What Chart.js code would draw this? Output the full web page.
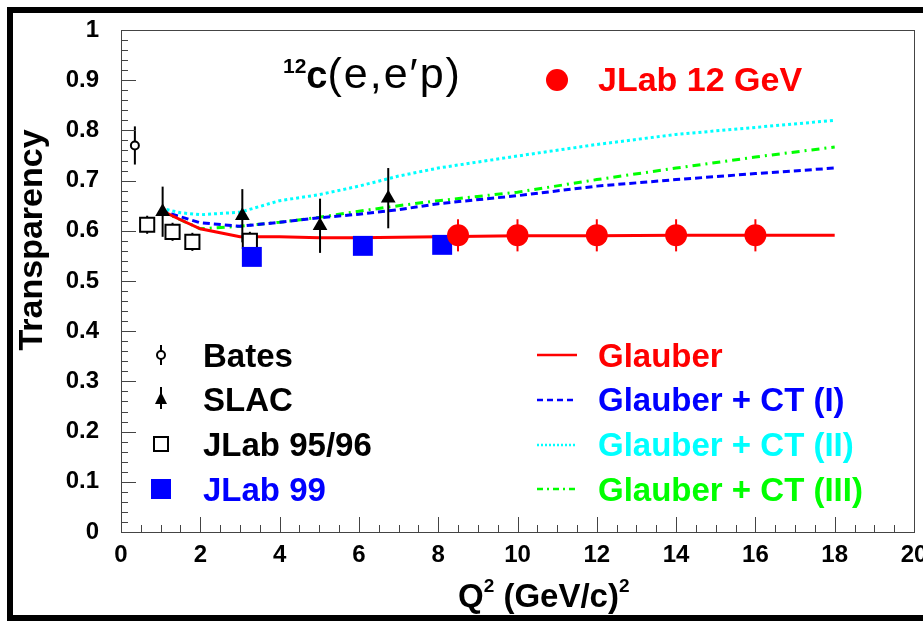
<!DOCTYPE html>
<html>
<head>
<meta charset="utf-8">
<title>12C(e,e'p) transparency</title>
<script src="https://cdn.jsdelivr.net/npm/chart.js@4.4.1/dist/chart.umd.min.js"></script>
<style>
  html, body { margin: 0; padding: 0; background: #fff; }
  #wrap { width: 923px; height: 621px; }
</style>
</head>
<body>
<div id="wrap"><canvas id="grafico" width="923" height="621"></canvas></div>
<script>
const FONT = '"Liberation Sans", Arial, Helvetica, sans-serif';

// curvas teóricas
const q2Curva = [1, 1.5, 2, 3, 4, 5, 6, 7, 8, 10, 12, 14, 16, 18];
const glauber = [0.641, 0.622, 0.604, 0.588, 0.588, 0.586, 0.586, 0.587, 0.588, 0.590, 0.590, 0.591, 0.591, 0.591];
const glauberCT1 = [0.640, 0.628, 0.616, 0.609, 0.617, 0.626, 0.633, 0.642, 0.654, 0.670, 0.689, 0.702, 0.714, 0.725];
const glauberCT2 = [0.645, 0.636, 0.632, 0.637, 0.660, 0.672, 0.689, 0.709, 0.725, 0.749, 0.772, 0.792, 0.806, 0.820];
const glauberCT3 = [0.640, 0.622, 0.604, 0.609, 0.617, 0.627, 0.639, 0.650, 0.660, 0.677, 0.702, 0.725, 0.747, 0.767];

// dados
const batesQ2 = [0.35];
const batesT = [0.770];
const batesErr = [0.038];

const slacQ2 = [1.05, 3.06, 5.02, 6.74];
const slacT = [0.638, 0.630, 0.610, 0.665];
const slacErr = [0.050, 0.053, 0.054, 0.060];

const jlab9596Q2 = [0.66, 1.30, 1.80, 3.25];
const jlab9596T = [0.612, 0.598, 0.578, 0.580];
const jlab9596Err = [0.018, 0.018, 0.018, 0.018];

const jlab99Q2 = [3.30, 6.10, 8.10];
const jlab99T = [0.548, 0.570, 0.572];

const jlab12Q2 = [8.5, 10, 12, 14, 16];
const jlab12T = [0.591, 0.591, 0.591, 0.591, 0.591];
const jlab12Err = [0.032, 0.032, 0.032, 0.032, 0.032];

const xTicks = [0, 2, 4, 6, 8, 10, 12, 14, 16, 18, 20];

function pares(xs, ys) {
    return xs.map((x, i) => ({ x: x, y: ys[i] }));
}

function curva(label, ys, cor, largura, traco) {
    return {
        label: label,
        data: pares(q2Curva, ys),
        showLine: true,
        borderColor: cor,
        borderWidth: largura,
        borderDash: traco,
        pointRadius: 0,
        fill: false
    };
}

function semPadding(s) {
    s.paddingLeft = 0;
    s.paddingRight = 0;
    s.paddingTop = 0;
    s.paddingBottom = 0;
}

const barrasErro = {
    id: 'barrasErro',
    beforeDatasetDraw(chart, args) {
        const ds = chart.data.datasets[args.index];
        if (!ds.erros) return;
        const { ctx, scales: { x, y } } = chart;
        ctx.save();
        ctx.strokeStyle = ds.corErro;
        ctx.lineWidth = 2;
        ds.data.forEach((p, i) => {
            const px = x.getPixelForValue(p.x);
            ctx.beginPath();
            ctx.moveTo(px, y.getPixelForValue(p.y - ds.erros[i]));
            ctx.lineTo(px, y.getPixelForValue(p.y + ds.erros[i]));
            ctx.stroke();
        });
        ctx.restore();
    }
};

const moldura = {
    id: 'moldura',
    afterDraw(chart) {
        const { ctx, chartArea: a, scales: { x, y } } = chart;
        ctx.save();
        ctx.strokeStyle = '#444';
        ctx.lineWidth = 1;
        ctx.strokeRect(a.left + 0.5, a.top + 0.5, a.right - a.left, a.bottom - a.top);
        ctx.beginPath();
        // marcas internas, estilo ROOT
        for (let k = 0; k <= 40; k++) {
            const px = Math.round(x.getPixelForValue(k * 0.5)) + 0.5;
            const len = k % 4 === 0 ? 15 : 7;
            ctx.moveTo(px, a.bottom);
            ctx.lineTo(px, a.bottom - len);
        }
        for (let k = 0; k <= 50; k++) {
            const py = Math.round(y.getPixelForValue(k * 0.02)) + 0.5;
            const len = k % 5 === 0 ? 15 : 7;
            ctx.moveTo(a.left, py);
            ctx.lineTo(a.left + len, py);
        }
        ctx.stroke();
        ctx.restore();
    }
};

function escreve(ctx, partes, x, base) {
    partes.forEach(([t, f, dy, esp]) => {
        ctx.font = f;
        ctx.letterSpacing = esp || '0px';
        ctx.fillText(t, x, base + dy);
        x += ctx.measureText(t).width;
    });
    ctx.letterSpacing = '0px';
}

function linhaAmostra(ctx, y, cor, traco) {
    ctx.save();
    ctx.strokeStyle = cor;
    ctx.lineWidth = 2.5;
    ctx.setLineDash(traco);
    ctx.beginPath();
    ctx.moveTo(537, y);
    ctx.lineTo(577, y);
    ctx.stroke();
    ctx.restore();
}

const textos = {
    id: 'textos',
    afterDraw(chart) {
        const ctx = chart.ctx;
        ctx.save();
        ctx.textBaseline = 'alphabetic';
        ctx.textAlign = 'left';

        // título
        ctx.fillStyle = '#000';
        escreve(ctx, [
            ['12', 'bold 21px ' + FONT, -15],
            ['c', 'bold 38px ' + FONT, 0],
            ['(e,e\u2032p)', '43px ' + FONT, 0, '2px']
        ], 283, 88);

        ctx.fillStyle = '#ff0000';
        ctx.beginPath();
        ctx.arc(557, 80, 11, 0, Math.PI * 2);
        ctx.fill();
        ctx.font = 'bold 34px ' + FONT;
        ctx.fillText('JLab 12 GeV', 598, 91);

        // legenda esquerda
        const bases = [367, 411, 456, 501];
        ctx.font = 'bold 33px ' + FONT;
        ctx.fillStyle = '#000';
        ctx.fillText('Bates', 203, bases[0]);
        ctx.fillText('SLAC', 203, bases[1]);
        ctx.fillText('JLab 95/96', 203, bases[2]);
        ctx.fillStyle = '#0000ff';
        ctx.fillText('JLab 99', 203, bases[3]);

        const mx = 161;
        ctx.strokeStyle = '#000';
        ctx.lineWidth = 2;
        ctx.beginPath();
        ctx.moveTo(mx, bases[0] - 22); ctx.lineTo(mx, bases[0] - 2);
        ctx.moveTo(mx, bases[1] - 24); ctx.lineTo(mx, bases[1] - 2);
        ctx.stroke();
        ctx.fillStyle = '#fff';
        ctx.beginPath();
        ctx.arc(mx, bases[0] - 12, 4, 0, Math.PI * 2);
        ctx.fill();
        ctx.stroke();
        ctx.fillStyle = '#000';
        ctx.beginPath();
        ctx.moveTo(mx, bases[1] - 19);
        ctx.lineTo(mx + 6, bases[1] - 7);
        ctx.lineTo(mx - 6, bases[1] - 7);
        ctx.closePath();
        ctx.fill();
        ctx.strokeRect(mx - 7, bases[2] - 19, 14, 14);
        ctx.fillStyle = '#0000ff';
        ctx.fillRect(mx - 10, bases[3] - 22, 20, 20);

        // legenda direita
        linhaAmostra(ctx, bases[0] - 12, '#ff0000', []);
        linhaAmostra(ctx, bases[1] - 11, '#0000ff', [6, 4]);
        linhaAmostra(ctx, bases[2] - 11, '#00ffff', [2, 2]);
        linhaAmostra(ctx, bases[3] - 12, '#00ff00', [6, 4, 2, 4]);
        ctx.font = 'bold 33px ' + FONT;
        ctx.fillStyle = '#ff0000';
        ctx.fillText('Glauber', 598, bases[0]);
        ctx.fillStyle = '#0000ff';
        ctx.fillText('Glauber + CT (I)', 598, bases[1]);
        ctx.fillStyle = '#00ffff';
        ctx.fillText('Glauber + CT (II)', 598, bases[2]);
        ctx.fillStyle = '#00ff00';
        ctx.fillText('Glauber + CT (III)', 598, bases[3]);

        // títulos dos eixos
        ctx.fillStyle = '#000';
        escreve(ctx, [
            ['Q', 'bold 33px ' + FONT, 0],
            ['2', 'bold 19px ' + FONT, -15],
            [' (GeV/c)', 'bold 33px ' + FONT, 0],
            ['2', 'bold 19px ' + FONT, -15]
        ], 458, 607);

        ctx.save();
        ctx.translate(42, 240);
        ctx.rotate(-Math.PI / 2);
        ctx.textAlign = 'center';
        ctx.font = 'bold 34px ' + FONT;
        ctx.fillText('Transparency', 0, 0);
        ctx.restore();

        // moldura preta externa
        ctx.fillStyle = '#000';
        ctx.fillRect(7, 7, 916, 6);
        ctx.fillRect(7, 7, 6, 614);
        ctx.fillRect(7, 615, 916, 6);
        ctx.restore();
    }
};

new Chart(document.getElementById('grafico'), {
    type: 'scatter',
    data: {
        datasets: [
            {
                label: 'JLab 12 GeV',
                data: pares(jlab12Q2, jlab12T),
                erros: jlab12Err,
                corErro: '#ff0000',
                pointStyle: 'circle',
                pointRadius: 11,
                backgroundColor: '#ff0000',
                borderColor: '#ff0000',
                borderWidth: 0
            },
            {
                label: 'JLab 99',
                data: pares(jlab99Q2, jlab99T),
                pointStyle: 'rect',
                pointRadius: 14.1,
                backgroundColor: '#0000ff',
                borderColor: '#0000ff',
                borderWidth: 0
            },
            {
                label: 'JLab 95/96',
                data: pares(jlab9596Q2, jlab9596T),
                erros: jlab9596Err,
                corErro: '#000',
                pointStyle: 'rect',
                pointRadius: 10,
                backgroundColor: '#fff',
                borderColor: '#000',
                borderWidth: 2
            },
            {
                label: 'SLAC',
                data: pares(slacQ2, slacT),
                erros: slacErr,
                corErro: '#000',
                pointStyle: 'triangle',
                pointRadius: 8.5,
                backgroundColor: '#000',
                borderColor: '#000',
                borderWidth: 0
            },
            {
                label: 'Bates',
                data: pares(batesQ2, batesT),
                erros: batesErr,
                corErro: '#000',
                pointStyle: 'circle',
                pointRadius: 4,
                backgroundColor: '#fff',
                borderColor: '#000',
                borderWidth: 2
            },
            curva('Glauber', glauber, '#ff0000', 3, []),
            curva('Glauber + CT (I)', glauberCT1, '#0000ff', 3, [7, 4]),
            curva('Glauber + CT (II)', glauberCT2, '#00ffff', 3, [3, 3]),
            curva('Glauber + CT (III)', glauberCT3, '#00ff00', 3, [8, 5, 2, 5])
        ]
    },
    options: {
        responsive: false,
        animation: false,
        layout: { autoPadding: false, padding: { left: 0, top: 30, right: 9, bottom: 0 } },
        plugins: { legend: { display: false }, tooltip: { enabled: false } },
        scales: {
            x: {
                type: 'linear',
                min: 0,
                max: 20,
                afterFit: s => { s.height = 89; semPadding(s); },
                afterBuildTicks: s => { s.ticks = xTicks.map(v => ({ value: v })); },
                grid: { display: false, drawTicks: false },
                border: { display: false },
                ticks: { autoSkip: false, maxRotation: 0, padding: 9, color: '#000', font: { family: FONT, size: 24, weight: 'bold' } }
            },
            y: {
                type: 'linear',
                min: 0,
                max: 1,
                afterFit: s => { s.width = 121; semPadding(s); },
                grid: { display: false, drawTicks: false },
                border: { display: false },
                ticks: {
                    stepSize: 0.1,
                    autoSkip: false,
                    padding: 22,
                    color: '#000',
                    font: { family: FONT, size: 24, weight: 'bold' },
                    callback: v => String(Number(v.toFixed(2)))
                }
            }
        }
    },
    plugins: [barrasErro, moldura, textos]
});
</script>
</body>
</html>
